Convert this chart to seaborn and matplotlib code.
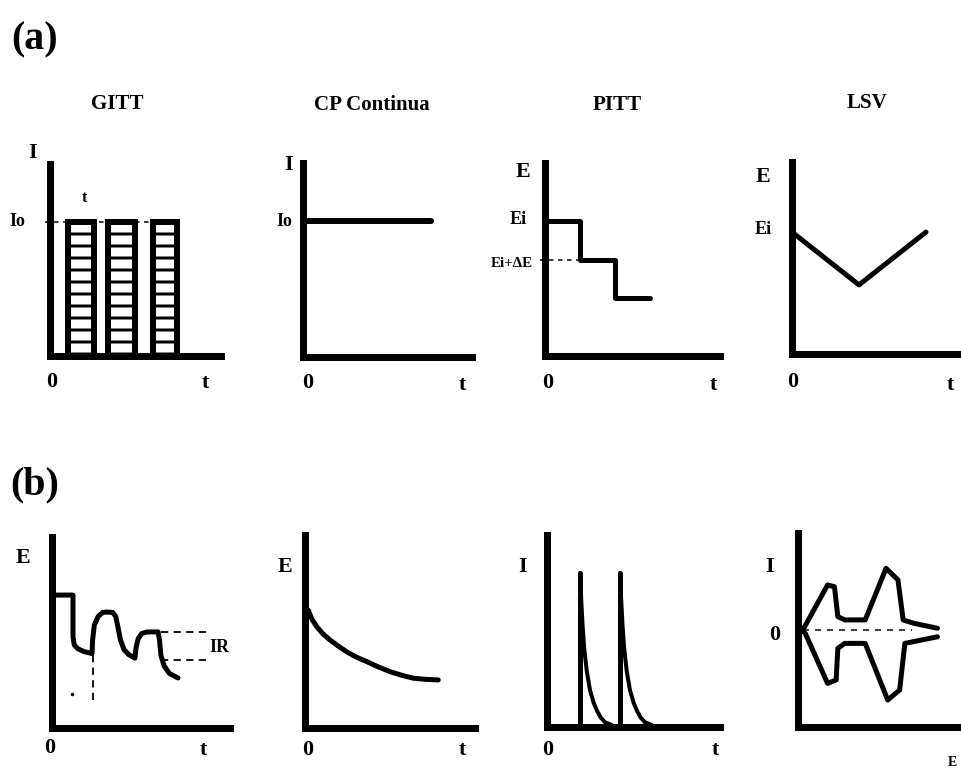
import numpy as np
import matplotlib
matplotlib.use("Agg")
import matplotlib.pyplot as plt
import seaborn as sns

sns.set_theme(style="white")
plt.rcParams["font.family"] = ["Liberation Serif", "DejaVu Serif"]
plt.rcParams["hatch.linewidth"] = 3.0

# ---------------- data (schematic units 0..10) ----------------
# (a) GITT: current pulses
gitt_pulse_start = [1.05, 3.39, 6.02]
gitt_pulse_end = [2.57, 4.97, 7.43]
gitt_I0 = 7.0
# (a) CP continua
cp_t = [0.0, 7.6]
cp_I = [7.0, 7.0]
# (a) PITT potential steps
pitt_t = [0.0, 2.0, 4.0, 6.0]
pitt_E = [7.0, 5.0, 3.0, 3.0]
# (a) LSV potential sweep
lsv_t = [0.0, 3.85, 7.7]
lsv_E = [6.35, 3.6, 6.35]

# (b) GITT potential response
gitt_resp_t = [0.0, 1.18, 1.18, 1.25, 1.45, 1.8, 2.25, 2.28, 2.38, 2.6, 2.85,
               3.09, 3.4, 3.58, 3.7, 3.85, 4.05, 4.3, 4.66, 4.72, 4.85, 5.05,
               5.34, 5.96, 6.04, 6.12, 6.3, 6.6, 7.08]
gitt_resp_E = [6.96, 6.96, 4.76, 4.35, 4.15, 4.0, 3.9, 4.6, 5.4, 5.85, 6.05,
               6.07, 6.05, 5.85, 5.3, 4.6, 4.1, 3.85, 3.66, 4.2, 4.7, 4.95,
               5.03, 5.03, 4.6, 3.8, 3.25, 2.85, 2.62]
ir_levels = [5.03, 3.56]
# (b) CP potential decay
cp_resp_t = [0.19, 0.4, 0.69, 1.05, 1.47, 1.95, 2.45, 3.0, 3.63, 4.3, 5.0, 5.7, 6.37, 7.1, 7.84]
cp_resp_E = [6.11, 5.65, 5.25, 4.88, 4.56, 4.25, 3.95, 3.68, 3.44, 3.17, 2.92, 2.73, 2.58, 2.52, 2.49]
# (b) PITT current spikes
spike_t = [1.91, 4.22]
spike_top = 8.02
decay1_t = [1.91, 1.98, 2.05, 2.15, 2.3, 2.49, 2.7, 2.89, 3.1, 3.35, 3.76]
decay2_t = [4.22, 4.29, 4.36, 4.46, 4.61, 4.8, 5.01, 5.2, 5.41, 5.66, 6.07]
decay_I = [8.02, 6.6, 5.4, 4.1, 2.9, 1.9, 1.25, 0.85, 0.5, 0.25, 0.1]
# (b) LSV current response
cv_up_E = [0.23, 1.76, 2.17, 2.37, 2.78, 4.0, 5.24, 5.95, 6.26, 6.87, 8.3]
cv_up_I = [4.91, 7.32, 7.23, 5.69, 5.52, 5.52, 8.18, 7.58, 5.52, 5.35, 5.09]
cv_lo_E = [0.43, 1.76, 2.27, 2.37, 2.78, 4.0, 5.34, 6.05, 6.36, 8.3]
cv_lo_I = [4.83, 2.25, 2.42, 4.05, 4.31, 4.31, 1.39, 1.91, 4.31, 4.65]

titles = ["GITT", "CP Continua", "PITT", "LSV"]

# ---------------- figure ----------------
W, H = 961, 769
fig = plt.figure(figsize=(W / 72, H / 72), dpi=72)
fig.patch.set_facecolor("white")

AX_LW = 7
LW = 5
K = "black"


def panel(x0, yb, x1, yt):
    ax = fig.add_axes([x0 / W, 1 - yb / H, (x1 - x0) / W, (yb - yt) / H])
    ax.set_xlim(0, 10)
    ax.set_ylim(0, 10)
    ax.set_facecolor("none")
    for s in ["top", "right"]:
        ax.spines[s].set_visible(False)
    for s in ["left", "bottom"]:
        ax.spines[s].set_linewidth(AX_LW)
        ax.spines[s].set_color(K)
        ax.spines[s].set_capstyle("projecting")
        ax.spines[s].set_zorder(5)
    ax.set_xticks([])
    ax.set_yticks([])
    ax.set_xlabel("")
    ax.set_ylabel("")
    return ax


def txt(x, y, s, size=22, **kw):
    fig.text(x / W, 1 - y / H, s, ha="center", va="center", fontsize=size,
             fontweight="bold", color=K, **kw)


def line(ax, x, y, lw=LW, **kw):
    sns.lineplot(x=x, y=y, ax=ax, color=K, lw=lw, sort=False, estimator=None,
                 legend=False, solid_capstyle="round", solid_joinstyle="round",
                 clip_on=False, **kw)
    ax.set_xlabel("")
    ax.set_ylabel("")


# ---- (a) row ----
ax1 = panel(50, 356, 221, 164)
widths = np.array(gitt_pulse_end) - np.array(gitt_pulse_start)
ax1.bar(gitt_pulse_start, [gitt_I0] * 3, width=widths, align="edge",
        facecolor="white", edgecolor=K, linewidth=6, hatch="-", zorder=3)
ax1.hlines(gitt_I0, -0.3, gitt_pulse_end[-1], colors=K, lw=1.5,
           linestyles=(0, (3, 3)), clip_on=False, zorder=2)

ax2 = panel(303, 357, 472, 163)
line(ax2, cp_t, cp_I, lw=6)

ax3 = panel(545, 356, 720, 163)
line(ax3, pitt_t, pitt_E, lw=LW, drawstyle="steps-post")
ax3.hlines(pitt_E[1], -0.3, pitt_t[1], colors=K, lw=1.5,
           linestyles=(0, (3, 3)), clip_on=False)

ax4 = panel(792, 354, 966, 162)
line(ax4, lsv_t, lsv_E)

# ---- (b) row ----
bx1 = panel(52, 728, 230, 537)
line(bx1, gitt_resp_t, gitt_resp_E)
for lv in ir_levels:
    bx1.hlines(lv, 6.1, 8.7, colors=K, lw=1.8,
               linestyles=(0, (4, 3)), clip_on=False)
bx1.vlines(2.28, 1.45, 3.9, colors=K, lw=1.8, linestyles=(0, (4, 3)))
bx1.plot([1.12], [1.8], marker="o", ms=2.5, color=K)

bx2 = panel(305, 728, 475, 535)
line(bx2, cp_resp_t, cp_resp_E)

bx3 = panel(547, 727, 720, 535)
bx3.vlines(spike_t, 0, spike_top, colors=K, lw=LW, capstyle="round")
line(bx3, decay1_t, decay_I, lw=4)
line(bx3, decay2_t, decay_I, lw=4)

bx4 = panel(798, 727, 966, 533)
bx4.hlines(5.0, 0.3, 6.8, colors=K, lw=1.5, linestyles=(0, (4, 4)))
line(bx4, cv_up_E, cv_up_I)
line(bx4, cv_lo_E, cv_lo_I)

# ---------------- labels ----------------
txt(35, 40, "(a)", size=40)
txt(35, 485, "(b)", size=40)

for (x, y), s in zip([(117, 104), (372, 105), (617, 105), (867, 103)], titles):
    txt(x, y, s, size=21)

# (a) axis labels
txt(33, 153, "I")
txt(17, 222, "Io", size=18)
txt(84, 198, "t", size=16)
txt(52, 382, "0")
txt(205, 383, "t")

txt(289, 165, "I")
txt(284, 221, "Io", size=18)
txt(308, 383, "0")
txt(462, 385, "t")

txt(523, 172, "E")
txt(518, 220, "Ei", size=18)
txt(512, 264, "Ei+ΔE", size=15)
txt(548, 383, "0")
txt(713, 385, "t")

txt(763, 177, "E")
txt(763, 230, "Ei", size=18)
txt(793, 382, "0")
txt(950, 385, "t")

# (b) axis labels
txt(23, 558, "E")
txt(50, 748, "0")
txt(203, 750, "t")
txt(219, 647, "IR", size=18)

txt(285, 567, "E")
txt(308, 750, "0")
txt(462, 750, "t")

txt(523, 567, "I")
txt(548, 750, "0")
txt(715, 750, "t")

txt(770, 567, "I")
txt(775, 635, "0")
txt(952, 762, "E", size=14)

fig.savefig("out.png", dpi=72, facecolor="white")
